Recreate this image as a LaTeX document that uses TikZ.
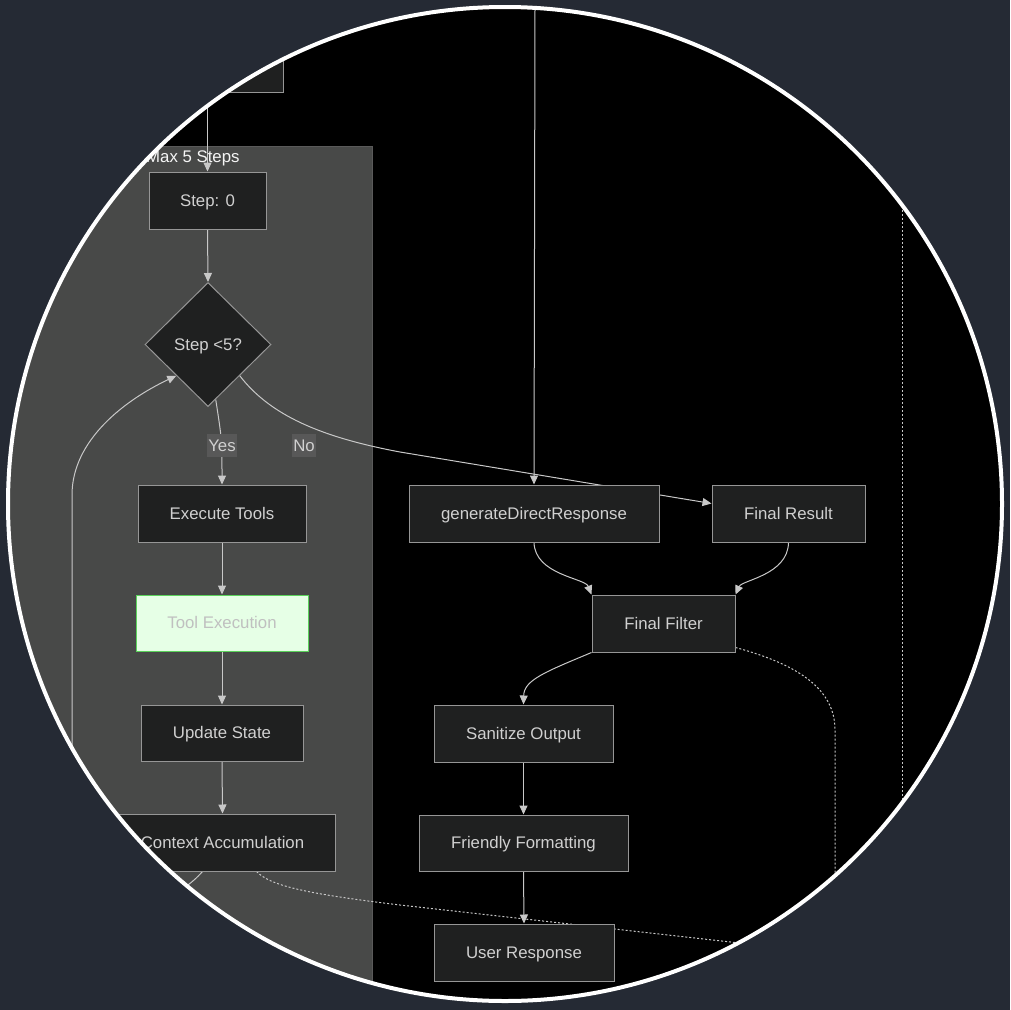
\documentclass[tikz,border=0pt]{standalone}
\usepackage{fontspec}
\setmainfont{Liberation Sans}
\usetikzlibrary{shapes.geometric,arrows.meta,calc}
\pgfdeclarelayer{back}
\pgfdeclarelayer{edgel}
\pgfsetlayers{back,edgel,main}
\definecolor{bgc}{RGB}{37,42,52}
\definecolor{subc}{RGB}{72,73,72}
\definecolor{subb}{RGB}{90,90,90}
\definecolor{nodef}{RGB}{31,32,32}
\definecolor{nodeb}{RGB}{150,150,150}
\definecolor{edgec}{RGB}{200,200,200}
\definecolor{txt}{RGB}{208,208,208}
\definecolor{lblbg}{RGB}{88,88,88}
\definecolor{toolf}{RGB}{230,255,230}
\definecolor{toolb}{RGB}{90,210,90}
\definecolor{tooltxt}{RGB}{192,192,192}
\tikzset{
  box/.style={draw=nodeb, fill=nodef, line width=1pt, text=txt, inner sep=0pt,
    text height=14pt, text depth=2.4pt,
    font=\fontsize{16.8}{20}\selectfont},
  dia/.style={box, diamond},
  edge/.style={draw=edgec, line width=1pt, -{Triangle[length=9pt,width=8pt]}},
  dotedge/.style={draw=edgec, line width=1pt, dash pattern=on 2pt off 2pt},
  lbl/.style={fill=lblbg, text=txt, inner xsep=1pt, inner ysep=0pt, minimum height=23pt,
    text height=14pt, text depth=2.4pt, font=\fontsize{16.8}{20}\selectfont},
}
\newcommand{\circclip}{\clip (505,504) circle[radius=497pt];}
\begin{document}
\begin{tikzpicture}[x=1pt,y=-1pt]
\useasboundingbox (0,0) rectangle (1010,1010);
\begin{pgfonlayer}{back}
\fill[bgc] (0,0) rectangle (1010,1010);
\begin{scope}
\circclip
\fill[black] (-10,-10) rectangle (1020,1020);
\filldraw[fill=subc, draw=subb, line width=1pt] (-20,146) rectangle (372,1040);
\end{scope}
\end{pgfonlayer}
\begin{scope}
\circclip
\node[anchor=west, text=white!92!gray, inner sep=0pt, font=\fontsize{16.8}{20}\selectfont] (subtitle) at (146,158) {Max 5 Steps};
% nodes
\node[box, minimum width=303pt, minimum height=112pt] (topL) at (131.5,36) {};
\node[box, minimum width=130pt, minimum height=58pt] (topC) at (535,-21) {};
\node[box, minimum width=117pt, minimum height=57pt] (s0) at (207.5,200.5) {Step: 0};
\node[dia, minimum width=126pt, minimum height=124pt] (dia) at (208,344.5) {Step <5?};
\node[box, minimum width=168pt, minimum height=57pt] (exec) at (222,513.5) {Execute Tools};
\node[box, fill=toolf, draw=toolb, text=tooltxt, minimum width=172pt, minimum height=56pt] (tool) at (222,623) {Tool Execution};
\node[box, minimum width=162pt, minimum height=56pt] (upd) at (222,733) {Update State};
\node[box, minimum width=225pt, minimum height=57pt] (ctx) at (222.5,842.5) {Context Accumulation};
\node[box, minimum width=250pt, minimum height=57pt] (gen) at (534,513.5) {generateDirectResponse};
\node[box, minimum width=153pt, minimum height=57pt] (res) at (788.5,513.5) {Final Result};
\node[box, minimum width=143pt, minimum height=57pt] (filt) at (663.5,623.5) {Final Filter};
\node[box, minimum width=179pt, minimum height=57pt] (san) at (523.5,733.5) {Sanitize Output};
\node[box, minimum width=209pt, minimum height=56pt] (fri) at (523.5,843) {Friendly Formatting};
\node[box, minimum width=180pt, minimum height=57pt] (usr) at (524,952.5) {User Response};
\node[lbl] (lblYes) at (222,445.5) {Yes};
\node[lbl] (lblNo) at (304,445.5) {No};
\coordinate (offA) at (820,952);
\coordinate (offB) at (835,1010);
\coordinate (offT) at (902,150);
\coordinate (offD) at (902,900);
\end{scope}
\begin{pgfonlayer}{edgel}
\begin{scope}
\circclip
\draw[dotedge] ($(ctx.south)+(34,0)$) .. controls (270,885) and (300,893) .. (400,905) -- (offA);
\draw[dotedge] ($(filt.south east)+(0,-5)$) .. controls (800,665) and (835,690) .. (835,730) -- (offB);
\draw[dotedge] (offT) -- (offD);
\draw[edge] (topL.south -| s0.north) -- (s0.north);
\draw[edge] (s0.south) -- (dia.north);
\draw[edge] (dia.-82) .. controls (222,440) .. (exec.north);
\draw[edge] (dia.south east) .. controls (270,415) and (320,437) .. (400,452) -- ($(res.west)+(0,-10)$);
\draw[edge] (topC.south) -- (gen.north);
\draw[edge] (gen.south) .. controls (535,575) and (585,578) .. (filt.north west);
\draw[edge] (res.south) .. controls (788,575) and (742,580) .. (filt.north east);
\draw[edge] (filt.south west) .. controls (545,672) and (524,680) .. (san.north);
\draw[edge] (san.south) -- (fri.north);
\draw[edge] (fri.south) -- (usr.north);
\draw[edge] (exec.south) -- (tool.north);
\draw[edge] (tool.south) -- (upd.north);
\draw[edge] (upd.south) -- (ctx.north);
\draw[edge] ($(ctx.south)+(-20,0)$) .. controls (160,920) and (72,920) .. (72,800) -- (72,495) .. controls (72,440) and (125,400) .. (dia.south west);
\end{scope}
\end{pgfonlayer}
\draw[white, line width=4pt] (505,504) circle[radius=497pt];
\end{tikzpicture}
\end{document}
